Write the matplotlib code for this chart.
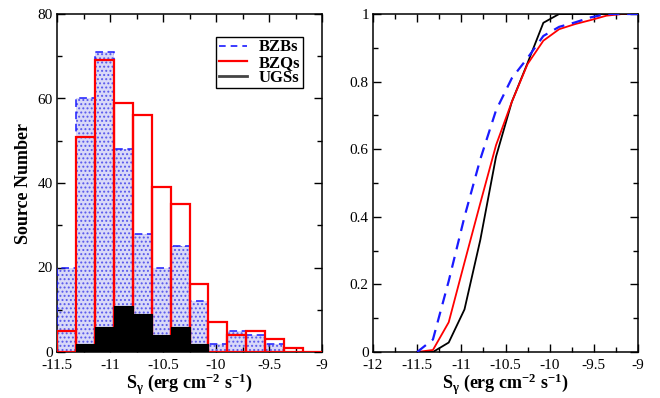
import numpy as np
import matplotlib
matplotlib.use("Agg")
import matplotlib.pyplot as plt
from matplotlib.ticker import MultipleLocator, FuncFormatter
from matplotlib.lines import Line2D

plt.rcParams["font.family"] = ["Liberation Serif", "DejaVu Serif"]
plt.rcParams["axes.unicode_minus"] = False
plt.rcParams["mathtext.fontset"] = "custom"
plt.rcParams["mathtext.rm"] = "Liberation Serif:bold"
plt.rcParams["mathtext.it"] = "Liberation Serif:bold"
plt.rcParams["mathtext.bf"] = "Liberation Serif:bold"
plt.rcParams["hatch.linewidth"] = 0.9

# Flux bins (log S, erg cm^-2 s^-1)
bin_edges = np.linspace(-11.5, -9.0, 15)

# Source counts per bin
bzb_counts = [20, 60, 71, 48, 28, 20, 25, 12, 2, 5, 4, 2, 0, 0]
bzq_counts = [5, 51, 69, 59, 56, 39, 35, 16, 7, 4, 5, 3, 1, 0]
ugs_counts = [0, 2, 6, 11, 9, 4, 6, 2, 0, 0, 0, 0, 0, 0]

# Cumulative distributions evaluated at the bin edges
bzb_cdf = [0.0, 0.037, 0.21, 0.40, 0.57, 0.715, 0.81, 0.87, 0.935, 0.962, 0.975, 0.99, 1.0, 1.0, 1.0]
bzq_cdf = [0.0, 0.006, 0.088, 0.265, 0.44, 0.612, 0.74, 0.852, 0.921, 0.955, 0.97, 0.982, 0.995, 1.0, 1.0]
ugs_cdf = [0.0, 0.0, 0.028, 0.126, 0.331, 0.578, 0.74, 0.855, 0.974, 1.0, 1.0, 1.0, 1.0, 1.0, 1.0]

W, H = 660, 398
fig = plt.figure(figsize=(W / 100, H / 100), dpi=100)
ax1 = fig.add_axes([57 / W, 1 - 352 / H, (322 - 57) / W, (352 - 14) / H])
ax2 = fig.add_axes([373 / W, 1 - 352 / H, (638 - 373) / W, (352 - 14) / H])

left = bin_edges[:-1]
width = np.diff(bin_edges)

# BZB: dotted fill with dashed outline
ax1.bar(left, bzb_counts, width=width, align="edge", facecolor="#d9d9f8",
        edgecolor="none", linewidth=0, zorder=1)
ax1.bar(left, bzb_counts, width=width, align="edge", facecolor="none",
        edgecolor="#5858ec", hatch="....", linewidth=0, zorder=2)
ax1.bar(left, bzb_counts, width=width, align="edge", facecolor="none",
        edgecolor="#1a1aff", linestyle=(0, (5, 3)), linewidth=1.1, zorder=3)
# BZQ: red outlines
ax1.bar(left, bzq_counts, width=width, align="edge", facecolor="none",
        edgecolor="#ff0000", linewidth=1.6, zorder=4)
# UGS: solid black
ax1.bar(left, ugs_counts, width=width, align="edge", facecolor="black",
        edgecolor="black", linewidth=0.8, zorder=5)

ax1.set_xlim(-11.5, -9.0)
ax1.set_ylim(0, 80)
ax1.xaxis.set_major_locator(MultipleLocator(0.5))
ax1.xaxis.set_minor_locator(MultipleLocator(0.25))
ax1.yaxis.set_major_locator(MultipleLocator(20))
ax1.yaxis.set_minor_locator(MultipleLocator(10))
ax1.set_ylabel("Source Number", fontsize=13, fontweight="bold", labelpad=4)

handles = [
    Line2D([], [], color="#1a1aff", linestyle=(0, (4, 3)), linewidth=1.2),
    Line2D([], [], color="#ff0000", linewidth=1.6),
    Line2D([], [], color="#444444", linewidth=2.0),
]
leg = ax1.legend(handles, ["BZBs", "BZQs", "UGSs"], loc="upper right",
                 bbox_to_anchor=(0.928, 0.932), borderaxespad=0,
                 frameon=True, fancybox=False,
                 framealpha=1, edgecolor="black", handlelength=1.7,
                 handletextpad=0.7, borderpad=0.15, labelspacing=-0.05,
                 prop={"family": "Liberation Serif", "weight": "bold", "size": 12})
leg.get_frame().set_linewidth(1.0)

# Cumulative curves
ax2.plot(bin_edges, bzb_cdf, color="#1a1aff", linestyle=(0, (5, 3.5)), linewidth=1.6, zorder=3)
ax2.plot(bin_edges, bzq_cdf, color="#ff0000", linewidth=1.3, zorder=2)
ax2.plot(bin_edges, ugs_cdf, color="black", linewidth=1.3, zorder=1)
ax2.set_xlim(-12, -9)
ax2.set_ylim(0, 1)
ax2.xaxis.set_major_locator(MultipleLocator(0.5))
ax2.xaxis.set_minor_locator(MultipleLocator(0.25))
ax2.yaxis.set_major_locator(MultipleLocator(0.2))
ax2.yaxis.set_minor_locator(MultipleLocator(0.1))

fmt = FuncFormatter(lambda v, p: "%g" % round(v, 3))
xlab = r"S$_{\mathrm{γ}}$ (erg cm$^{\mathrm{-2}}$ s$^{\mathrm{-1}}$)"
for ax in (ax1, ax2):
    ax.xaxis.set_major_formatter(fmt)
    ax.yaxis.set_major_formatter(fmt)
    ax.tick_params(which="both", direction="in", top=True, right=True,
                   labelsize=11, width=1.0)
    ax.tick_params(axis="x", which="major", pad=5)
    ax.tick_params(axis="y", which="major", pad=3)
    ax.tick_params(which="major", length=6)
    ax.tick_params(which="minor", length=3.5)
    for s in ax.spines.values():
        s.set_linewidth(1.1)
    ax.set_xlabel(xlab, fontsize=13, fontweight="bold", labelpad=0)

fig.savefig("out.png", dpi=100)
